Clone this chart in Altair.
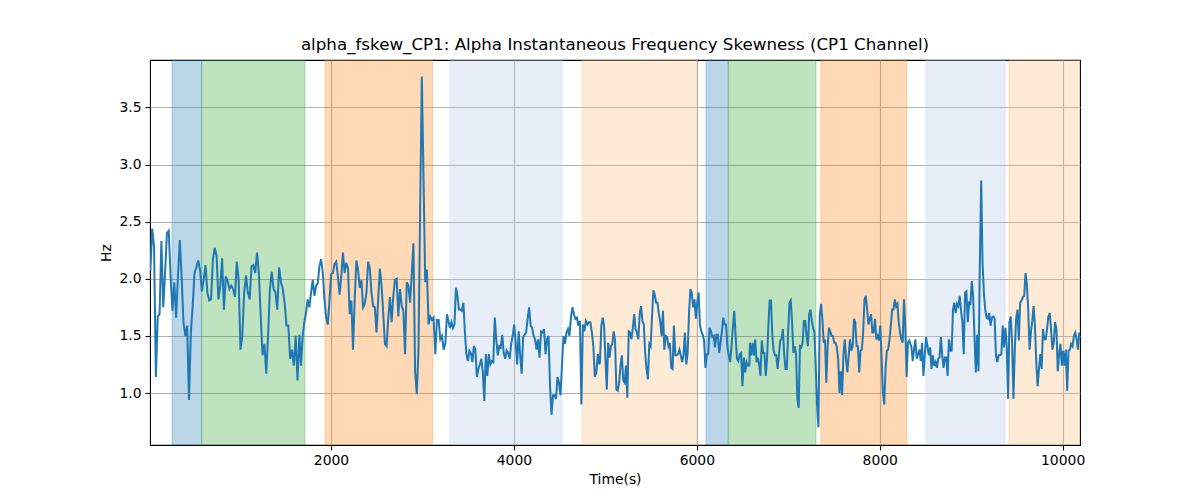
import altair as alt
import numpy as np
import pandas as pd

# ---- line data: six consecutive stretches of the recording (Hz) ----
seg1_vals = [2.07, 2.44, 2.28, 1.14, 1.67, 1.69, 2.33, 1.75, 2.05, 2.40, 2.42, 2.02, 1.72, 1.97, 1.66, 2.02,
             2.34, 2.02, 1.62, 1.50, 1.59, 0.94, 1.53, 1.76, 2.05, 2.10, 2.16, 2.08, 1.89, 1.99, 2.12, 1.88,
             1.81, 1.82, 2.17, 2.27, 2.20, 1.82, 1.94, 2.18, 1.73, 2.02, 1.98, 1.91, 1.94, 1.91, 1.84, 2.15,
             1.99, 1.38, 1.50, 1.88, 2.03, 1.88, 1.82, 2.11, 2.12, 2.05, 2.23, 2.05, 1.67, 1.33, 1.43, 1.17,
             1.50, 1.91, 2.06, 1.91, 1.88, 1.73, 2.10, 1.97, 1.91, 1.79, 1.59, 1.59, 1.30, 1.38, 1.24, 1.50,
             1.11, 1.51]
seg2_vals = [1.24, 1.50, 1.62, 1.70, 1.82, 1.75, 1.88, 1.99, 1.85, 1.94, 1.96, 2.11, 2.17, 2.05, 1.82, 1.66,
             1.60, 1.82, 2.04, 2.05, 2.13, 2.15, 2.02, 1.86, 2.02, 2.23, 2.05, 2.14, 2.09, 1.69, 1.81, 1.38,
             1.82, 2.16, 2.08, 1.92, 1.99, 1.75, 1.78, 1.88, 2.15, 2.09, 1.88, 1.76, 1.75, 1.53, 1.82, 2.09,
             1.94, 1.70, 1.43, 1.41, 1.65, 1.84, 1.62, 1.85, 1.99, 2.00, 1.67, 1.91, 1.76, 1.72, 1.34, 1.97,
             1.94, 1.79, 2.05, 2.31, 1.18, 0.99, 1.38, 2.60, 3.77, 2.90, 1.97, 2.08, 1.60, 1.67, 1.64, 1.66,
             1.34, 1.64, 1.64, 1.47, 1.50, 1.38, 1.43, 1.69, 1.62]
seg3_vals = [1.57, 1.62, 1.57, 1.60, 1.92, 1.85, 1.73, 1.73, 1.72, 1.79, 1.53, 1.34, 1.28, 1.37, 1.35, 1.27,
             1.41, 1.38, 1.14, 1.21, 1.25, 1.30, 1.18, 0.93, 1.34, 1.15, 1.34, 1.25, 1.28, 1.27, 1.66, 1.47,
             1.33, 1.41, 1.40, 1.51, 1.35, 1.30, 1.37, 1.35, 1.30, 1.43, 1.50, 1.60, 1.44, 1.25, 1.54, 1.33,
             1.17, 1.49, 1.51, 1.53, 1.65, 1.75, 1.59, 1.57, 1.50, 1.47, 1.38, 1.47, 1.31, 1.54, 1.53, 1.56,
             1.34, 1.47, 1.50, 1.06, 0.81, 0.98, 0.98, 0.95, 1.14, 1.09, 0.98, 1.24, 1.50, 1.43, 1.53, 1.56,
             1.50, 1.66, 1.75, 1.69, 1.65, 1.66, 1.59, 1.63, 0.90, 1.60, 1.54, 1.63, 1.60, 1.62, 1.62, 1.53,
             1.41, 1.14, 1.18, 1.34, 1.25]
seg4_vals = [1.27, 1.59, 1.66, 1.59, 1.30, 1.03, 1.44, 1.31, 1.41, 1.43, 1.54, 1.46, 1.03, 1.02, 1.09, 1.24,
             1.33, 1.11, 1.09, 1.24, 0.96, 1.54, 1.53, 1.47, 1.57, 1.69, 1.56, 1.53, 1.47, 1.69, 1.76, 1.63,
             1.60, 1.35, 1.21, 1.12, 1.43, 1.41, 1.67, 1.90, 1.86, 1.79, 1.79, 1.69, 1.62, 1.50, 1.72, 1.38,
             1.50, 1.49, 1.41, 1.44, 1.22, 1.21, 1.59, 1.33, 1.33, 1.34, 1.38, 1.33, 1.27, 1.33, 1.53, 1.25,
             1.35, 1.70, 1.91, 1.88, 1.75, 1.82, 1.65, 1.79, 1.88, 1.59, 1.54, 1.51, 1.46, 1.22, 1.34, 1.34,
             1.57, 1.54, 1.49, 1.50, 1.40, 1.51, 1.51, 1.35, 1.44, 1.54, 1.66, 1.60, 1.60, 1.41, 1.33, 1.27,
             1.41, 1.57, 1.72, 1.50, 1.30, 1.28, 1.34, 1.35, 1.06, 1.31, 1.18, 1.27, 1.24, 1.24]
seg5_vals = [1.44, 1.33, 1.44, 1.33, 1.47, 1.27, 1.31, 1.25, 1.15, 1.46, 1.35, 1.35, 1.15, 1.30, 1.59, 1.81,
             1.81, 1.50, 1.37, 1.33, 1.33, 1.21, 1.33, 1.46, 1.47, 1.56, 1.34, 1.21, 1.21, 1.53, 1.79, 1.81,
             1.62, 1.35, 1.41, 1.35, 0.95, 0.87, 1.41, 1.40, 1.44, 1.63, 1.63, 1.50, 1.41, 1.69, 1.73, 1.63,
             1.57, 1.53, 1.22, 0.89, 0.70, 1.67, 1.78, 1.65, 1.44, 1.47, 1.09, 1.41, 1.57, 1.54, 1.50, 1.50,
             1.44, 1.44, 1.40, 1.30, 1.00, 1.19, 0.98, 1.33, 1.47, 1.30, 1.18, 1.33, 1.47, 1.37, 1.41, 1.65,
             1.62, 1.41, 1.41, 1.18, 1.37, 1.38, 1.53, 1.82, 1.85, 1.73, 1.60, 1.65, 1.69, 1.53, 1.53, 1.65,
             1.47, 1.50, 1.46, 1.59, 1.30, 1.00, 0.90, 1.21, 1.37, 1.38, 1.47, 1.59, 1.73, 1.73, 1.82, 1.76,
             1.78, 1.62, 1.53, 1.47, 1.44, 1.82, 1.59, 1.14, 1.44, 1.46]
seg6_vals = [1.44, 1.41, 1.28, 1.38, 1.47, 1.30, 1.34, 1.38, 1.28, 1.44, 1.15, 1.33, 1.49, 1.41, 1.33, 1.40,
             1.21, 1.33, 1.24, 1.27, 1.22, 1.30, 1.31, 1.49, 1.33, 1.22, 1.31, 1.31, 1.15, 1.47, 1.37, 1.37,
             1.73, 1.79, 1.70, 1.78, 1.76, 1.85, 1.72, 1.62, 1.34, 1.88, 1.89, 1.62, 1.79, 1.78, 1.98, 1.85,
             1.50, 1.18, 1.51, 1.19, 2.14, 2.86, 2.14, 1.88, 1.73, 1.66, 1.65, 1.70, 1.59, 1.66, 1.67, 1.65,
             1.33, 1.27, 1.33, 1.33, 1.34, 1.59, 1.40, 1.57, 1.41, 0.95, 1.62, 1.67, 1.44, 0.95, 1.38, 1.65,
             1.73, 1.46, 1.79, 1.81, 1.84, 1.85, 2.05, 1.95, 1.73, 1.38, 1.53, 1.63, 1.76, 1.59, 1.27, 1.06,
             1.21, 1.34, 1.21, 1.56, 1.47, 1.47, 1.56, 1.67, 1.70, 1.56, 1.38, 1.44, 1.62, 1.56, 1.19, 1.34,
             1.43, 1.24, 1.37, 1.24, 1.38, 1.02, 1.37, 1.38, 1.43, 1.41, 1.50, 1.53, 1.47, 1.38, 1.53]

# time span (s) covered by each stretch (samples evenly spaced inside)
seg_start = [25, 1672, 3301, 4941, 6581, 8331]
seg_end = [1654, 3287, 4934, 6574, 8323, 10182]

# ---- shaded phases ----
band_start = [262, 586, 1934, 3301, 4745, 6100, 6344, 7356, 8506, 9413]
band_end = [586, 1716, 3112, 4526, 5999, 6344, 7303, 8295, 9370, 10190]
band_color = ["#1f77b4", "#2ca02c", "#ff7f0e", "#aec7e8", "#ffbb78",
              "#1f77b4", "#2ca02c", "#ff7f0e", "#aec7e8", "#ffbb78"]

x_ticks = [2000, 4000, 6000, 8000, 10000]
y_ticks = [1.0, 1.5, 2.0, 2.5, 3.0, 3.5]
x_domain = [21, 10190]
y_domain = [0.545, 3.915]

segs = [seg1_vals, seg2_vals, seg3_vals, seg4_vals, seg5_vals, seg6_vals]
times, vals = [], []
for s, a, b in zip(segs, seg_start, seg_end):
    times.extend(np.linspace(a, b, len(s)).tolist())
    vals.extend(s)
line_df = pd.DataFrame({"t": times, "v": vals})
band_df = pd.DataFrame({"start": band_start, "end": band_end, "color": band_color})

FONT = "DejaVu Sans"
xscale = alt.Scale(domain=x_domain, nice=False, zero=False)
yscale = alt.Scale(domain=y_domain, nice=False, zero=False)

xaxis = alt.Axis(values=x_ticks, format="d", title="Time(s)", grid=True)
yaxis = alt.Axis(values=y_ticks, format=".1f", title="Hz", grid=True)

bands = alt.Chart(band_df).mark_rect(
    fillOpacity=0.3, strokeOpacity=0.3, strokeWidth=1, clip=True
).encode(
    x=alt.X("start:Q", scale=xscale, axis=xaxis),
    x2="end:Q",
    fill=alt.Fill("color:N", scale=None),
    stroke=alt.Stroke("color:N", scale=None),
)

line = alt.Chart(line_df).mark_line(
    color="#1f77b4", strokeWidth=2.0, clip=True
).encode(
    x=alt.X("t:Q", scale=xscale, axis=xaxis),
    y=alt.Y("v:Q", scale=yscale, axis=yaxis),
)

chart = alt.layer(bands, line).properties(
    width=930,
    height=385,
    title=alt.TitleParams(
        "alpha_fskew_CP1: Alpha Instantaneous Frequency Skewness (CP1 Channel)",
        font=FONT, fontSize=16.7, fontWeight="normal", color="black",
        anchor="middle", frame="group", baseline="alphabetic", offset=-7,
    ),
    autosize=alt.AutoSizeParams(type="none"),
    padding={"left": 142, "top": 52, "right": 112, "bottom": 47},
).configure_view(
    stroke="black", strokeWidth=1.1
).configure_axis(
    labelFont=FONT, titleFont=FONT, labelFontSize=13.9, titleFontSize=13.9,
    labelColor="black", titleColor="black", titleFontWeight="normal",
    tickColor="black", tickSize=4.9, tickWidth=1.1, labelPadding=4.0,
    domain=False, gridColor="#b0b0b0", gridWidth=1.1,
).configure_axisX(
    titlePadding=5
).configure_axisY(
    titlePadding=6
)

chart.save("out.html", embed_options={"renderer": "svg", "actions": False})
